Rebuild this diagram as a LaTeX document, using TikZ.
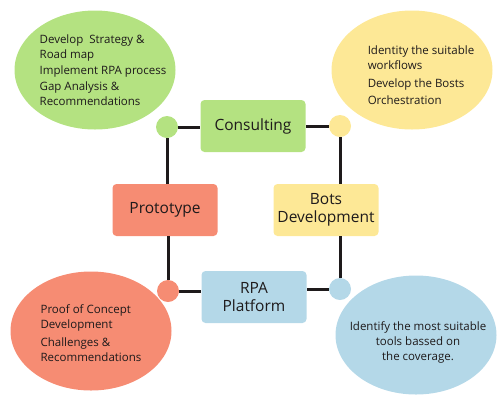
\documentclass[tikz,border=0pt]{standalone}
\usepackage{fontspec}
\setmainfont{Open Sans}
\usetikzlibrary{shapes.geometric}

\definecolor{cgreen}{RGB}{180,226,129}
\definecolor{cyellow}{RGB}{253,232,150}
\definecolor{csalmon}{RGB}{246,140,115}
\definecolor{cblue}{RGB}{180,216,232}
\definecolor{ink}{RGB}{30,26,27}

\tikzset{
  box/.style={rounded corners=4pt,minimum width=105pt,minimum height=52pt,
    align=center,text=ink,font=\fontsize{15.5}{18}\selectfont},
  bubble/.style={ellipse,minimum width=161pt,minimum height=119pt,inner sep=0pt},
  bubbletext/.style={text=ink,font=\fontsize{11.5}{15}\selectfont},
  dot/.style={circle,minimum size=22pt,inner sep=0pt},
  link/.style={line width=3pt,ink}
}

\begin{document}
\begin{tikzpicture}[x=1pt,y=-1pt]
\useasboundingbox (0,0) rectangle (500,400);

% bubbles
\node[bubble,fill=cgreen] (gbub) at (95,70) {};
\node[bubble,fill=cyellow] (ybub) at (412,70) {};
\node[bubble,fill=csalmon] (sbub) at (91,331) {};
\node[bubble,fill=cblue] (bbub) at (416,335) {};

\node[bubbletext,align=left] (gtext) at (103,70)
  {Develop\ \ Strategy \&\\Road map\\[1pt]Implement RPA process\\[1pt]Gap Analysis \&\\Recommendations};
\node[bubbletext,align=left] (ytext) at (421,75)
  {Identity the suitable\\workflows\\[3pt]Develop the Bosts\\[2pt]Orchestration};
\node[bubbletext,align=left] (stext) at (91,333)
  {Proof of Concept\\Development\\[3pt]Challenges \&\\Recommendations};
\node[bubbletext,align=center] (btext) at (418,342)
  {Identify the most suitable\\tools bassed on\\the coverage.};

% boxes
\node[box,fill=cgreen] (cons) at (253,126) {Consulting};
\node[box,fill=csalmon] (proto) at (165,210) {Prototype};
\node[box,fill=cyellow] (bots) at (326,210) {Bots\\Development};
\node[box,fill=cblue] (rpa) at (254,297) {RPA\\Platform};

% corner dots
\foreach \n/\p/\c in {gdot/{(167,127)}/cgreen,ydot/{(340,126)}/cyellow,
                      sdot/{(168,291)}/csalmon,bdot/{(340,289)}/cblue}
  \node[dot,fill=\c] (\n) at \p {};

\draw[link] (gdot) -- (gdot-|cons.west);
\draw[link] (gdot) -- (gdot|-proto.north);
\draw[link] (ydot) -- (ydot-|cons.east);
\draw[link] (ydot) -- (ydot|-bots.north);
\draw[link] (sdot|-proto.south) -- (sdot);
\draw[link] (sdot) -- (sdot-|rpa.west);
\draw[link] (bdot) -- (bdot-|rpa.east);
\draw[link] (bdot) -- (bdot|-bots.south);
\end{tikzpicture}
\end{document}
